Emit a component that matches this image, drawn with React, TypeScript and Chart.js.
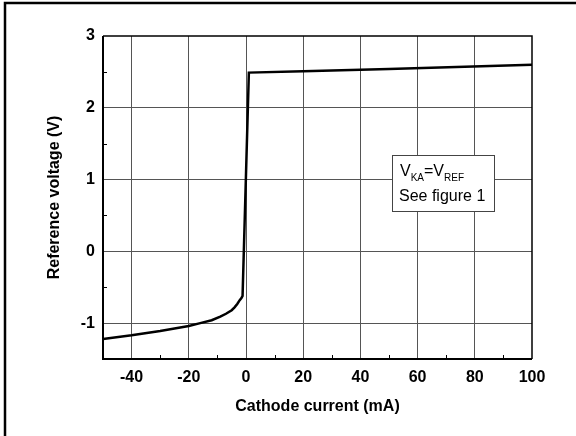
import React, { useEffect, useRef } from "react";
import { Chart, registerables } from "chart.js";

Chart.register(...registerables);

// Data
const currentMA = [-50, -40, -30, -20, -16, -12, -9, -7, -5, -4, -3, -2.2, -1.6, -1.2, 1.0, 20, 50, 100];
const refVoltage = [-1.22, -1.17, -1.11, -1.04, -1.0, -0.96, -0.91, -0.87, -0.82, -0.78, -0.73, -0.68, -0.65, -0.62, 2.49, 2.51, 2.54, 2.6];

const xMin = -50;
const xMax = 100;
const yMin = -1.5;
const yMax = 3;
const xTitle = "Cathode current (mA)";
const yTitle = "Reference voltage (V)";
const noteLine2 = "See figure 1";

const FONT = "'Liberation Sans', Arial, Helvetica, sans-serif";

const decorPlugin = {
  id: "decor",
  beforeDatasetsDraw(chart: any) {
    const { ctx, chartArea: a, scales } = chart;
    const xs = scales.x;
    const ys = scales.y;
    ctx.save();
    // minor inward ticks
    ctx.strokeStyle = "#000";
    ctx.lineWidth = 1;
    ctx.beginPath();
    for (let v = -30; v < xMax; v += 20) {
      const px = Math.round(xs.getPixelForValue(v)) + 0.5;
      ctx.moveTo(px, a.bottom);
      ctx.lineTo(px, a.bottom - 4);
    }
    for (let v = -0.5; v < yMax; v += 1) {
      const py = Math.round(ys.getPixelForValue(v)) + 0.5;
      ctx.moveTo(a.left, py);
      ctx.lineTo(a.left + 4, py);
    }
    ctx.stroke();
    ctx.restore();
  },
  afterDraw(chart: any) {
    const { ctx, chartArea: a } = chart;
    ctx.save();
    // plot frame
    ctx.strokeStyle = "#000";
    ctx.lineWidth = 1.5;
    ctx.beginPath();
    ctx.moveTo(a.left, a.top);
    ctx.lineTo(a.right, a.top);
    ctx.lineTo(a.right, a.bottom);
    ctx.stroke();
    ctx.lineWidth = 2;
    ctx.beginPath();
    ctx.moveTo(a.left, a.top);
    ctx.lineTo(a.left, a.bottom);
    ctx.lineTo(a.right, a.bottom);
    ctx.stroke();

    // outer page frame (top and left only visible)
    ctx.lineWidth = 2.5;
    ctx.beginPath();
    ctx.moveTo(5, 436);
    ctx.lineTo(5, 3);
    ctx.lineTo(576, 3);
    ctx.stroke();

    // annotation box
    const bx = 392.5, by = 155.5, bw = 102, bh = 56;
    ctx.fillStyle = "#fff";
    ctx.fillRect(bx, by, bw, bh);
    ctx.strokeStyle = "#444";
    ctx.lineWidth = 1;
    ctx.strokeRect(bx, by, bw, bh);

    ctx.fillStyle = "#000";
    ctx.textBaseline = "alphabetic";
    ctx.textAlign = "left";
    let x = 400;
    const base1 = 176;
    ctx.font = `16px ${FONT}`;
    ctx.fillText("V", x, base1);
    x += ctx.measureText("V").width;
    ctx.font = `10px ${FONT}`;
    ctx.fillText("KA", x, base1 + 5);
    x += ctx.measureText("KA").width;
    ctx.font = `16px ${FONT}`;
    ctx.fillText("=V", x, base1);
    x += ctx.measureText("=V").width;
    ctx.font = `10px ${FONT}`;
    ctx.fillText("REF", x, base1 + 5);
    ctx.font = `16px ${FONT}`;
    ctx.fillText(noteLine2, 399, 201);

    // axis titles
    ctx.font = `bold 16px ${FONT}`;
    ctx.textAlign = "center";
    ctx.fillText(xTitle, (a.left + a.right) / 2, 411);
    ctx.save();
    ctx.translate(59, (a.top + a.bottom) / 2);
    ctx.rotate(-Math.PI / 2);
    ctx.fillText(yTitle, 0, 0);
    ctx.restore();
    ctx.restore();
  },
};

export default function App() {
  const ref = useRef<HTMLCanvasElement>(null);
  useEffect(() => {
    document.body.style.margin = "0";
    const canvas = ref.current!;
    const points = currentMA.map((x, i) => ({ x, y: refVoltage[i] }));
    const chart = new Chart(canvas, {
      type: "scatter",
      data: {
        datasets: [
          {
            data: points,
            showLine: true,
            borderColor: "#000",
            borderWidth: 2.5,
            pointRadius: 0,
            tension: 0,
            fill: false,
          },
        ],
      },
      options: {
        animation: false,
        responsive: false,
        events: [],
        layout: { padding: { left: 0, top: 36, right: 44, bottom: 0 } },
        plugins: { legend: { display: false }, tooltip: { enabled: false } },
        scales: {
          x: {
            type: "linear",
            min: xMin,
            max: xMax,
            afterFit: (s: any) => { s.height = 77; },
            border: { display: false },
            grid: {
              drawTicks: false,
              color: (c: any) => {
                const v = c.tick ? c.tick.value : NaN;
                return v % 20 === 0 && v > xMin && v < xMax ? "#555" : "transparent";
              },
              lineWidth: 1,
            },
            ticks: {
              stepSize: 10,
              autoSkip: false,
              maxRotation: 0,
              padding: 9,
              color: "#000",
              font: { family: FONT, size: 16, weight: "bold" },
              callback: (v: any) => (Number(v) % 20 === 0 && Number(v) > xMin ? String(v) : ""),
            },
          },
          y: {
            type: "linear",
            min: yMin,
            max: yMax,
            afterFit: (s: any) => { s.width = 103; },
            border: { display: false },
            grid: {
              drawTicks: false,
              color: (c: any) => {
                const v = c.tick ? c.tick.value : NaN;
                return Number.isInteger(v) && v > yMin && v < yMax ? "#555" : "transparent";
              },
              lineWidth: 1,
            },
            ticks: {
              stepSize: 0.5,
              autoSkip: false,
              padding: 8,
              color: "#000",
              font: { family: FONT, size: 16, weight: "bold" },
              callback: (v: any) => (Number.isInteger(Number(v)) ? String(v) : ""),
            },
          },
        },
      },
      plugins: [decorPlugin],
    });
    return () => chart.destroy();
  }, []);
  return (
    <div style={{ position: "fixed", left: 0, top: 0, width: 576, height: 436, background: "#fff" }}>
      <canvas ref={ref} width={576} height={436} style={{ width: 576, height: 436, display: "block" }} />
    </div>
  );
}
